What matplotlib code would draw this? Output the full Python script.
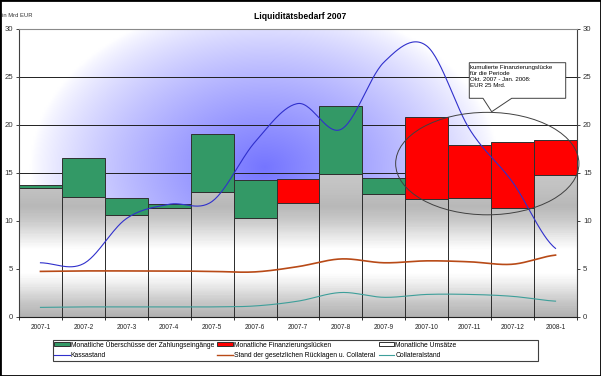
"""Liquiditätsbedarf 2007 - Nachbau des Excel-Diagramms."""
import numpy as np
import matplotlib
matplotlib.use("Agg")
import matplotlib.pyplot as plt
from matplotlib.colors import LinearSegmentedColormap
from matplotlib.patches import Ellipse, Polygon, Rectangle, Patch
from matplotlib.lines import Line2D

plt.rcParams["font.family"] = ["Liberation Sans", "DejaVu Sans"]

# Daten (in Mrd EUR)
months = ["2007-1", "2007-2", "2007-3", "2007-4", "2007-5", "2007-6", "2007-7",
          "2007-8", "2007-9", "2007-10", "2007-11", "2007-12", "2008-1"]
umsaetze = [13.4, 12.5, 10.6, 11.3, 13.0, 10.3, 11.8, 14.9, 12.8, 12.2, 12.4, 11.3, 14.7]
ueberschuesse = [0.3, 4.0, 1.8, 0.45, 6.0, 3.9, 0, 7.0, 1.6, 0, 0, 0, 0]
luecken = [0, 0, 0, 0, 0, 0, 2.5, 0, 0, 8.6, 5.5, 6.9, 3.7]
kassastand = [5.6, 5.5, 10.2, 11.7, 12.0, 18.2, 22.2, 19.5, 26.5, 28.2, 19.5, 14.0, 7.1]
ruecklagen = [4.7, 4.75, 4.75, 4.75, 4.7, 4.65, 5.2, 6.0, 5.6, 5.8, 5.7, 5.45, 6.4]
collateral = [0.95, 1.0, 1.0, 1.0, 1.0, 1.1, 1.6, 2.5, 2.0, 2.3, 2.3, 2.1, 1.6]

GREEN = "#339966"
RED = "#ff0000"
BLUE = "#3030cc"
BROWN = "#b84a17"
TEAL = "#3d9f9a"
EDGE = "#303030"


def smooth(values, steps=30):
    """Catmull-Rom Glättung wie bei Excel-Linien."""
    y = np.asarray(values, dtype=float)
    p = np.concatenate([[y[0]], y, [y[-1]]])
    xs, ys = [], []
    t = np.linspace(0, 1, steps, endpoint=False)
    for i in range(len(y) - 1):
        p0, p1, p2, p3 = p[i], p[i + 1], p[i + 2], p[i + 3]
        m1 = (p2 - p0) / 2
        m2 = (p3 - p1) / 2
        h00 = 2 * t**3 - 3 * t**2 + 1
        h10 = t**3 - 2 * t**2 + t
        h01 = -2 * t**3 + 3 * t**2
        h11 = t**3 - t**2
        xs.append(i + t)
        ys.append(h00 * p1 + h10 * m1 + h01 * p2 + h11 * m2)
    xs.append([len(y) - 1])
    ys.append([y[-1]])
    return np.concatenate(xs), np.concatenate(ys)


W, H = 601, 376
fig = plt.figure(figsize=(W / 100, H / 100), dpi=100)
fig.patch.set_facecolor("white")


def fx(px):
    return px / W


def fy(py):
    return 1 - py / H


ax = fig.add_axes([fx(19), fy(316.5), (577 - 19) / W, (316.5 - 28.7) / H])
x = np.arange(len(months))
ext = (-0.5, len(months) - 0.5, 0, 30)

# Hintergrund: radialer Verlauf weiss -> blau
gx, gy = np.meshgrid(np.linspace(0, 1, 300), np.linspace(0, 1, 200))
d = np.sqrt(((gx - 0.44) / 0.42) ** 2 + ((gy - 0.52) / 0.58) ** 2)
tt = np.clip(1 - d, 0, 1) ** 0.8
blue = np.array([0.46, 0.46, 1.0])
bg = (1 - tt[..., None]) * np.array([1.0, 1.0, 1.0]) + tt[..., None] * blue
ax.imshow(bg, extent=ext, origin="lower", aspect="auto", zorder=0,
          interpolation="bilinear")

for v in [5, 10, 15, 20, 25]:
    ax.axhline(v, color="#202020", lw=0.7, zorder=1)

# Grauer Verlauf fuer die Umsatzsaeulen (nach Hoehe in Mrd EUR)
stops = [(0, "#b2b2b2"), (1.5, "#c8c8c8"), (3.5, "#f0f0f0"), (4.5, "#ffffff"),
         (7, "#ffffff"), (8.5, "#e6e6e6"), (10, "#cacaca"), (11.5, "#b8b8b8"),
         (13, "#c0c0c0"), (15, "#c8c8c8"), (30, "#dddddd")]
gray_cmap = LinearSegmentedColormap.from_list("bars", [(s / 30, c) for s, c in stops])

for xi, h in zip(x, umsaetze):
    col = gray_cmap(np.linspace(0, h / 30, 200))[:, None, :3]
    ax.imshow(col, extent=(xi - 0.5, xi + 0.5, 0, h), origin="lower",
              aspect="auto", zorder=2, interpolation="nearest")
ax.bar(x, umsaetze, width=1, facecolor="none", edgecolor=EDGE,
       lw=0.7, zorder=2.5)

ax.bar(x, ueberschuesse, bottom=umsaetze, width=1, color=GREEN,
       edgecolor=EDGE, lw=0.7, zorder=2.5)
ax.bar(x, luecken, bottom=umsaetze, width=1, color=RED,
       edgecolor=EDGE, lw=0.7, zorder=2.5)

for vals, col, lw in [(kassastand, BLUE, 0.8), (ruecklagen, BROWN, 1.2),
                      (collateral, TEAL, 0.8)]:
    sx, sy = smooth(vals)
    ax.plot(sx, sy, color=col, lw=lw, zorder=3)

ax.set_xlim(-0.5, len(months) - 0.5)
ax.set_ylim(0, 30)

# Achsen
ax.set_xticks(x)
ax.set_xticklabels(months, fontsize=4.7, color="#222222")
ax.set_xticks(np.arange(-0.5, len(months)), minor=True)
ax.tick_params(axis="x", which="major", length=0, pad=5.5)
ax.tick_params(axis="x", which="minor", length=2.5, width=0.7, color=EDGE)
ax.set_yticks(range(0, 31, 5))
ax.tick_params(axis="y", which="major", length=2.2, width=0.7, color="#404040",
               labelsize=5.6, labelcolor="#333333", left=True, right=True,
               labelleft=True, labelright=True, pad=2.2)
ax.spines["top"].set_color("#8a8a8a")
ax.spines["left"].set_color("#404040")
ax.spines["right"].set_color("#404040")
ax.spines["bottom"].set_color("#202020")
for s in ax.spines.values():
    s.set_linewidth(0.8)

# Titel
fig.text(fx(300), fy(16.5), "Liquiditätsbedarf 2007", ha="center", va="center",
         fontsize=6.2, fontweight="bold")
fig.text(fx(2), fy(15.7), "in Mrd EUR", ha="left", va="center", fontsize=4.2,
         color="#333333")

# Ellipse um die Finanzierungsluecke
ax.add_patch(Ellipse((10.41, 15.94), 4.27, 10.68, fill=False, edgecolor="#404040",
                     lw=0.7, zorder=5, clip_on=False))

# Callout
pts = [(469.3, 62.7), (565.7, 62.7), (565.7, 98.3), (511.7, 98.3),
       (491.7, 111.7), (483, 98.3), (469.3, 98.3)]
fig.patches.append(Polygon([(fx(a), fy(b)) for a, b in pts], closed=True,
                           transform=fig.transFigure, facecolor="white",
                           edgecolor="#404040", lw=0.7, zorder=6))
fig.text(fx(470.5), fy(64.8),
         "kumulierte Finanzierungslücke\nfür die Periode\nOkt. 2007 - Jan. 2008:\nEUR 25 Mrd.",
         ha="left", va="top", fontsize=4.45, linespacing=1.25, zorder=7)

# Legende
handles = [Patch(facecolor=GREEN, edgecolor=EDGE, lw=0.7),
           Line2D([], [], color=BLUE, lw=0.8),
           Patch(facecolor=RED, edgecolor=EDGE, lw=0.7),
           Line2D([], [], color=BROWN, lw=1.0),
           Patch(facecolor="white", edgecolor=EDGE, lw=0.7),
           Line2D([], [], color=TEAL, lw=0.8)]
labels = ["Monatliche Überschüsse der Zahlungseingänge", "Kassastand",
          "Monatliche Finanzierungslücken",
          "Stand der gesetzlichen Rücklagen u. Collateral",
          "Monatliche Umsätze", "Collateralstand"]
fig.legend(handles, labels, ncol=3, loc="upper left",
           bbox_to_anchor=(fx(54), fy(340.8)), frameon=False, fontsize=4.9,
           handlelength=2.3, handleheight=0.6, handletextpad=0.15,
           columnspacing=0.5, labelspacing=0.5, borderpad=0, borderaxespad=0)
fig.patches.append(Rectangle((fx(52.7), fy(360.7)), (538.3 - 52.7) / W,
                             (360.7 - 340) / H, transform=fig.transFigure,
                             fill=False, edgecolor="#404040", lw=0.8))

# Rahmen um das ganze Bild
fig.patches.append(Rectangle((0, 0), 1, 1, transform=fig.transFigure,
                             fill=False, edgecolor="black", lw=2.0))

fig.savefig("out.png", dpi=100, facecolor=fig.get_facecolor())
plt.close(fig)
